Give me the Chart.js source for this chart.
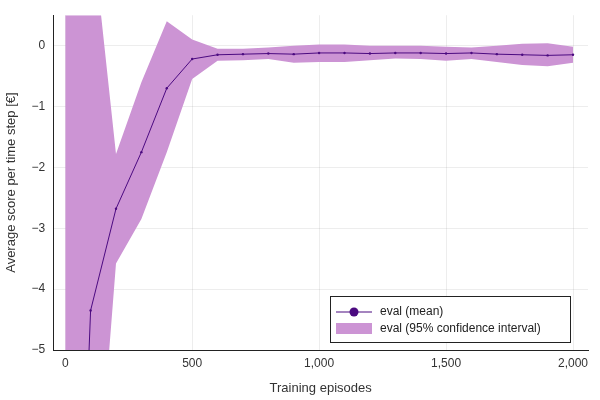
<!DOCTYPE html>
<html><head><meta charset="utf-8">
<script src="https://cdn.jsdelivr.net/npm/chart.js@4"></script>
<style>html,body{margin:0;padding:0;background:#fff}#w{width:600px;height:400px}</style>
</head><body><div id="w"><canvas id="c"></canvas></div>
<script>
const episodes=[0,100,200,300,400,500,600,700,800,900,1000,1100,1200,1300,1400,1500,1600,1700,1800,1900,2000];
const meanVals=[-15,-4.35,-2.68,-1.75,-0.7,-0.22,-0.15,-0.14,-0.13,-0.14,-0.12,-0.12,-0.13,-0.12,-0.12,-0.13,-0.12,-0.14,-0.15,-0.16,-0.15];
const upperVals=[10,2.1,-1.78,-0.6,0.4,0.1,-0.05,-0.05,-0.03,0.0,0.02,0.02,0.0,0.0,0.0,-0.02,-0.03,0.0,0.03,0.04,-0.02];
const lowerVals=[-40,-8.9,-3.58,-2.85,-1.75,-0.55,-0.25,-0.24,-0.22,-0.28,-0.27,-0.27,-0.24,-0.21,-0.22,-0.25,-0.22,-0.27,-0.32,-0.34,-0.28];
const xTicks=[0,500,1000,1500,2000];
const yTicks=[-5,-4,-3,-2,-1,0];
const pts=a=>a.map((v,i)=>({x:episodes[i],y:v}));
const FONT="'Liberation Sans', Arial, sans-serif";
const LINE='#4b0a80', BAND='#cc94d4';
const legendPlugin={id:'lg',afterDraw(ch){const c=ch.ctx;c.save();
 const x=330,y=296,w=240,h=46;c.fillStyle='#fff';c.fillRect(x,y,w,h);c.strokeStyle='#222';c.lineWidth=1;c.strokeRect(x+.5,y+.5,w,h);
 c.strokeStyle=LINE;c.lineWidth=1.2;c.beginPath();c.moveTo(336,312);c.lineTo(372,312);c.stroke();
 c.fillStyle=LINE;c.beginPath();c.arc(354,312,4.5,0,Math.PI*2);c.fill();
 c.fillStyle=BAND;c.fillRect(336,323,36,11);
 c.fillStyle='#222';c.font='12px '+FONT;c.textBaseline='middle';
 c.fillText('eval (mean)',380,312);c.fillText('eval (95% confidence interval)',380,329);c.restore();}};
new Chart(document.getElementById('c'),{type:'line',
 data:{datasets:[
  {data:pts(meanVals),borderColor:LINE,borderWidth:1,pointRadius:1.2,pointBackgroundColor:LINE,pointBorderWidth:0,fill:false,order:0},
  {data:pts(upperVals),borderWidth:0,borderColor:'rgba(0,0,0,0)',pointRadius:0,backgroundColor:BAND,fill:'+1',order:1},
  {data:pts(lowerVals),borderWidth:0,borderColor:'rgba(0,0,0,0)',pointRadius:0,fill:false,order:1}]},
 options:{responsive:true,maintainAspectRatio:false,animation:false,
  layout:{padding:{top:12,right:12,left:0,bottom:0}},
  plugins:{legend:{display:false},tooltip:{enabled:false}},
  scales:{
   x:{type:'linear',min:-47,max:2059,afterBuildTicks:s=>{s.ticks=xTicks.map(v=>({value:v}))},
    grid:{color:'rgba(0,0,0,0.07)',drawTicks:false},border:{color:'#222'},
    ticks:{color:'#333',font:{family:FONT,size:12},padding:6},
    title:{display:true,text:'Training episodes',color:'#333',font:{family:FONT,size:13}}},
   y:{min:-5,max:0.5,afterBuildTicks:s=>{s.ticks=yTicks.map(v=>({value:v}))},
    grid:{color:'rgba(0,0,0,0.07)',drawTicks:false},border:{color:'#222'},
    ticks:{color:'#333',font:{family:FONT,size:12},padding:8,callback:v=>v<0?'\u2212'+Math.abs(v):v},
    title:{display:true,text:'Average score per time step [€]',color:'#333',font:{family:FONT,size:13}}}}},
 plugins:[legendPlugin]});
</script></body></html>
